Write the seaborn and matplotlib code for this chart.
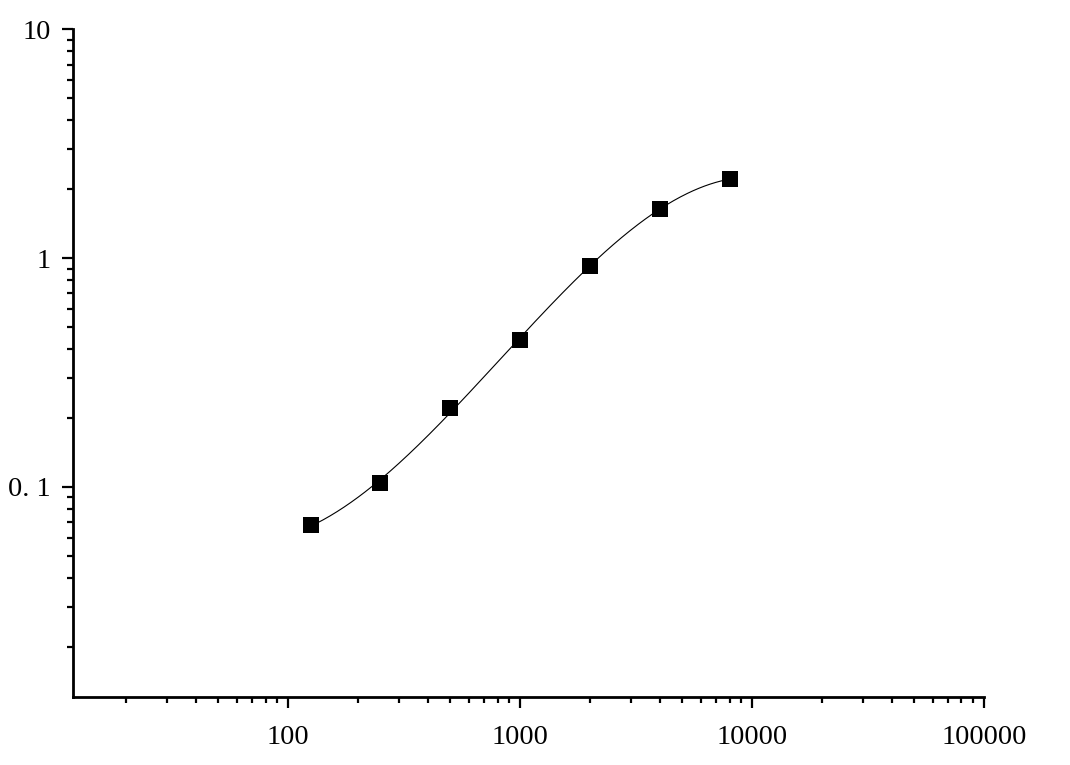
import numpy as np
import pandas as pd
import matplotlib
matplotlib.use('Agg')
import matplotlib.pyplot as plt
import matplotlib.ticker as mticker
import seaborn as sns

# standard concentrations and measured responses
conc = [125, 250, 500, 1000, 2000, 4000, 8000]
resp = [0.068, 0.104, 0.221, 0.438, 0.923, 1.64, 2.21]

data = pd.DataFrame({'conc': conc, 'resp': resp})

# smooth fit in log-log space (cubic)
coef = np.polyfit(np.log10(data.conc), np.log10(data.resp), 3)
xf = np.logspace(np.log10(min(conc)), np.log10(max(conc)), 300)
fit = pd.DataFrame({'conc': xf, 'resp': 10 ** np.polyval(coef, np.log10(xf))})

sns.set_style('ticks', {'axes.edgecolor': 'black', 'xtick.color': 'black',
                        'ytick.color': 'black', 'text.color': 'black'})
plt.rcParams['font.family'] = ['Liberation Serif', 'DejaVu Serif']

fig = plt.figure(figsize=(10.7, 7.65), dpi=100)
ax = fig.add_axes([0.0682, 0.0889, 0.9196 - 0.0682, 0.962 - 0.0889])

sns.lineplot(data=fit, x='conc', y='resp', color='black', linewidth=0.8, ax=ax)
sns.scatterplot(data=data, x='conc', y='resp', marker='s', color='black',
                s=130, edgecolor='black', linewidth=0, zorder=5, ax=ax)

ax.set_xscale('log')
ax.set_yscale('log')
ax.set_xlim(11.83, 100000)
ax.set_ylim(0.0121, 10)

ax.xaxis.set_major_locator(mticker.FixedLocator([100, 1000, 10000, 100000]))
ax.xaxis.set_major_formatter(mticker.FixedFormatter(['100', '1000', '10000', '100000']))
ax.xaxis.set_minor_locator(mticker.LogLocator(base=10, subs=np.arange(2, 10), numticks=20))
ax.yaxis.set_major_locator(mticker.FixedLocator([0.1, 1, 10]))
ax.yaxis.set_major_formatter(mticker.FixedFormatter(['0. 1', '1', '10']))
ax.yaxis.set_minor_locator(mticker.LogLocator(base=10, subs=np.arange(2, 10), numticks=20))
ax.xaxis.set_minor_formatter(mticker.NullFormatter())
ax.yaxis.set_minor_formatter(mticker.NullFormatter())

ax.tick_params(which='major', length=8, width=1.6, labelsize=20.5, direction='out',
               colors='black')
ax.tick_params(which='minor', length=4.5, width=1.6, direction='out', colors='black')
ax.tick_params(axis='x', which='major', pad=12)
ax.tick_params(axis='y', which='major', pad=8)

sns.despine(ax=ax)
for s in ['left', 'bottom']:
    ax.spines[s].set_linewidth(2)
    ax.spines[s].set_color('black')
ax.set_xlabel('')
ax.set_ylabel('')

fig.savefig('out.png', dpi=100)
